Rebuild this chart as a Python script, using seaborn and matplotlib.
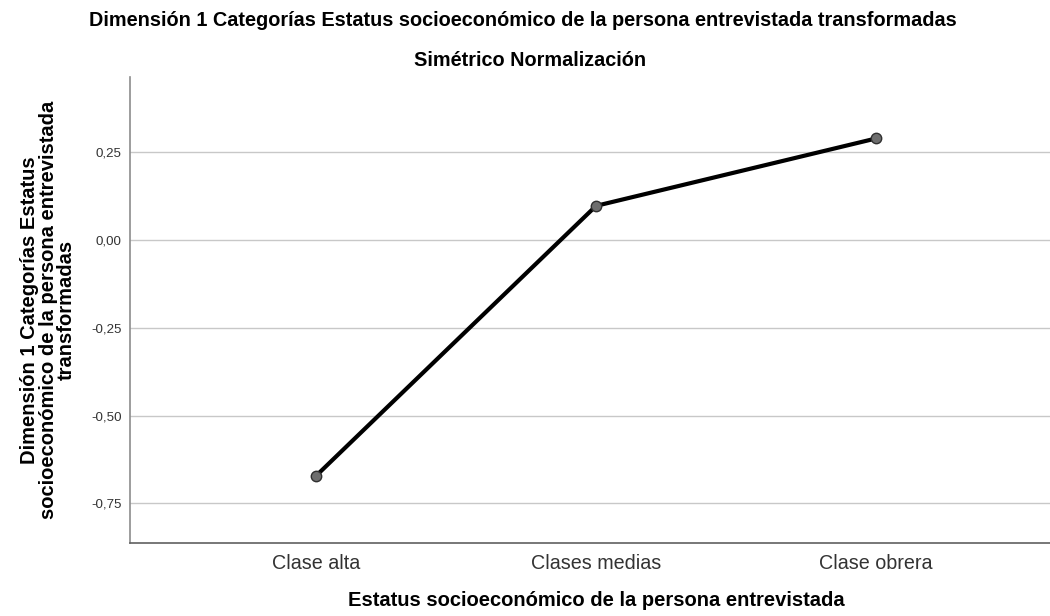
import matplotlib
matplotlib.use("Agg")
import matplotlib.pyplot as plt
import pandas as pd
import seaborn as sns

# category quantifications
categories = ["Clase alta", "Clases medias", "Clase obrera"]
values = [-0.672, 0.097, 0.289]
y_ticks = [-0.75, -0.50, -0.25, 0.00, 0.25]
y_tick_labels = ["-0,75", "-0,50", "-0,25", "0,00", "0,25"]

df = pd.DataFrame({"cat": categories, "val": values})

sns.set_theme(style="white")
plt.rcParams["font.family"] = ["Liberation Sans", "DejaVu Sans"]

fig = plt.figure(figsize=(10.5, 6.16), dpi=100)
ax = fig.add_axes([130 / 1050, 1 - 543 / 616, 1 - 130 / 1050, (543 - 77) / 616])

ax.set_yticks(y_ticks)
ax.set_yticklabels(y_tick_labels)
ax.yaxis.grid(True, color="#c8c8c8", linewidth=1.0)
ax.set_axisbelow(True)

sns.lineplot(
    data=df, x="cat", y="val", ax=ax, color="black", linewidth=3,
    marker="o", markersize=7.5, markerfacecolor="#6e6e6e",
    markeredgecolor="#303030", markeredgewidth=1.0, sort=False,
)

ax.set_xlim(-0.664, 2.621)
ax.set_ylim(-0.863, 0.464)

for side in ["top", "right"]:
    ax.spines[side].set_visible(False)
ax.spines["left"].set_color("#8c8c8c")
ax.spines["bottom"].set_color("#606060")
ax.spines["left"].set_linewidth(1.2)
ax.spines["bottom"].set_linewidth(1.2)

ax.tick_params(axis="y", labelsize=9.6, labelcolor="#333333", length=0, pad=6)
ax.tick_params(axis="x", labelsize=14.2, labelcolor="#333333", length=0, pad=8)

ax.set_xlabel("Estatus socioeconómico de la persona entrevistada",
              fontsize=14.5, fontweight="bold", color="black")
ax.xaxis.set_label_coords((596 - 130) / 920, (543 - 591) / 466)
ax.set_ylabel("Dimensión 1 Categorías Estatus\nsocioeconómico de la persona entrevistada\ntransformadas",
              fontsize=14.5, fontweight="bold", linespacing=0.95, color="black")
ax.yaxis.set_label_coords((76 - 130) / 920, 0.5)

fig.text(523 / 1050, 1 - 21 / 616,
         "Dimensión 1 Categorías Estatus socioeconómico de la persona entrevistada transformadas",
         ha="center", va="center", fontsize=14.3, fontweight="bold", color="black")
fig.text(530 / 1050, 1 - 61 / 616, "Simétrico Normalización",
         ha="center", va="center", fontsize=14.3, fontweight="bold", color="black")

fig.savefig("out.png", dpi=100)
